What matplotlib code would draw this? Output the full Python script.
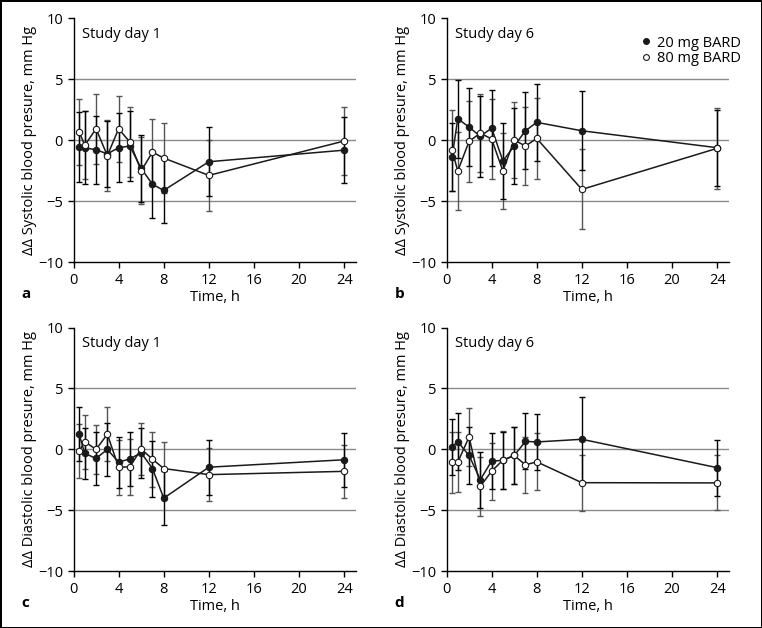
import matplotlib
matplotlib.use("Agg")
import matplotlib.pyplot as plt
from matplotlib.lines import Line2D

plt.rcParams['font.family'] = ['Open Sans', 'DejaVu Sans']
plt.rcParams['font.size'] = 10

hours = [0.5, 1, 2, 3, 4, 5, 6, 7, 8, 12, 24]
x_ticks = [0, 4, 8, 12, 16, 20, 24]
y_ticks = [-10, -5, 0, 5, 10]

# systolic, study day 1
a20 = [-0.55, -0.6, -0.77, -1.1, -0.6, -0.46, -2.3, -3.6, -4.1, -1.75, -0.8]
a20_sd = [2.85, 3.0, 2.8, 2.7, 2.85, 2.9, 2.75, 2.75, 2.7, 2.85, 2.7]
a80 = [0.7, -0.4, 0.95, -1.25, 0.95, -0.14, -2.5, -0.96, -1.45, -2.87, -0.05]
a80_sd = [2.7, 2.8, 2.85, 2.9, 2.7, 2.9, 2.75, 2.75, 2.85, 2.9, 2.8]

# systolic, study day 6
b20 = [-1.34, 1.78, 1.09, 0.33, 1.01, -1.69, -0.46, 0.79, 1.48, 0.79, -0.6]
b20_sd = [2.8, 3.2, 3.2, 3.3, 3.15, 3.1, 3.15, 3.15, 3.15, 3.25, 3.1]
b80 = [-0.82, -2.51, -0.08, 0.6, 0.11, -2.51, 0.03, -0.46, 0.16, -4.02, -0.65]
b80_sd = [3.3, 3.2, 3.3, 3.2, 3.25, 3.15, 3.1, 3.2, 3.3, 3.28, 3.3]

# diastolic, study day 1
c20 = [1.24, -0.33, -0.74, 0.0, -1.05, -0.77, -0.28, -1.57, -4.0, -1.46, -0.85]
c20_sd = [2.2, 2.1, 2.2, 2.15, 2.1, 2.2, 2.05, 2.3, 2.2, 2.25, 2.2]
c80 = [-0.14, 0.63, 0.0, 1.24, -1.46, -1.43, 0.03, -0.8, -1.57, -2.07, -1.8]
c80_sd = [2.2, 2.2, 2.0, 2.2, 2.25, 2.3, 2.1, 2.25, 2.2, 2.15, 2.2]

# diastolic, study day 6
d20 = [0.22, 0.63, -0.5, -2.48, -0.96, -0.9, -0.5, 0.66, 0.61, 0.83, -1.5]
d20_sd = [2.3, 2.35, 2.3, 2.3, 2.3, 2.35, 2.35, 2.3, 2.3, 3.5, 2.3]
d80 = [-1.05, -1.05, 1.02, -3.03, -1.79, -0.88, -0.5, -1.27, -1.02, -2.73, -2.75]
d80_sd = [2.5, 2.45, 2.4, 2.4, 2.35, 2.35, 2.35, 2.3, 2.35, 2.3, 2.25]

W, H = 762, 628
fig = plt.figure(figsize=(W / 100, H / 100), dpi=100)
fig.patch.set_edgecolor('black')
fig.patch.set_linewidth(1)

panels = [
    ('a', 73.5, 262.3, a20, a20_sd, a80, a80_sd, 'Study day 1', 'ΔΔ Systolic blood presure, mm Hg'),
    ('b', 446.5, 262.3, b20, b20_sd, b80, b80_sd, 'Study day 6', 'ΔΔ Systolic blood presure, mm Hg'),
    ('c', 73.5, 571.3, c20, c20_sd, c80, c80_sd, 'Study day 1', 'ΔΔ Diastolic blood presure, mm Hg'),
    ('d', 446.5, 571.3, d20, d20_sd, d80, d80_sd, 'Study day 6', 'ΔΔ Diastolic blood presure, mm Hg'),
]

for letter, left, bottom, m20, s20, m80, s80, title, ylab in panels:
    ax = fig.add_axes([left / W, 1 - bottom / H, 282 / W, 243.8 / H])
    ax.set_xlim(0, 25)
    ax.set_ylim(-10, 10)
    ax.set_xticks(x_ticks)
    ax.set_yticks(y_ticks)
    for yv in [-5, 0, 5]:
        ax.axhline(yv, color='#8a8a8a', lw=1, zorder=0)
    for s in ['top', 'right']:
        ax.spines[s].set_visible(False)
    ax.spines['left'].set_linewidth(1)
    ax.spines['bottom'].set_linewidth(1)
    ax.tick_params(length=4, width=1, labelsize=10.5)

    ax.errorbar(hours, m80, yerr=s80, fmt='none', ecolor='#555555', elinewidth=1,
                capsize=2.2, capthick=1, zorder=2)
    ax.errorbar(hours, m20, yerr=s20, fmt='none', ecolor='black', elinewidth=1,
                capsize=2.2, capthick=1, zorder=2)
    ax.plot(hours, m20, color='#1a1a1a', lw=1.1, marker='o', markersize=4.6,
            markerfacecolor='#1a1a1a', markeredgecolor='#1a1a1a', markeredgewidth=0.8,
            zorder=3)
    ax.plot(hours, m80, color='#1a1a1a', lw=1.1, marker='o', markersize=4.6,
            markerfacecolor='white', markeredgecolor='#1a1a1a', markeredgewidth=0.8,
            zorder=4)

    ax.text(0.03, 0.965, title, transform=ax.transAxes, va='top', ha='left', fontsize=10.5)
    ax.set_xlabel('Time, h', fontsize=10.5, labelpad=2)
    ax.set_ylabel(ylab, fontsize=10.5, labelpad=1)
    fig.text((left - 52) / W, 1 - (bottom + 36) / H, letter, fontsize=11,
             fontweight='bold', ha='left', va='baseline')

    if letter == 'b':
        handles = [
            Line2D([], [], ls='none', marker='o', markersize=4.2, markerfacecolor='#1a1a1a',
                   markeredgecolor='#1a1a1a', markeredgewidth=0.8),
            Line2D([], [], ls='none', marker='o', markersize=4.2, markerfacecolor='white',
                   markeredgecolor='#1a1a1a', markeredgewidth=0.8),
        ]
        ax.legend(handles, ['20 mg BARD', '80 mg BARD'], loc='upper left',
                  bbox_to_anchor=(0.665, 0.96), frameon=False, handlelength=0.7,
                  handletextpad=0.35, labelspacing=0.05, fontsize=10.5, borderpad=0)

fig.savefig('out.png', dpi=100, edgecolor=fig.get_edgecolor())
